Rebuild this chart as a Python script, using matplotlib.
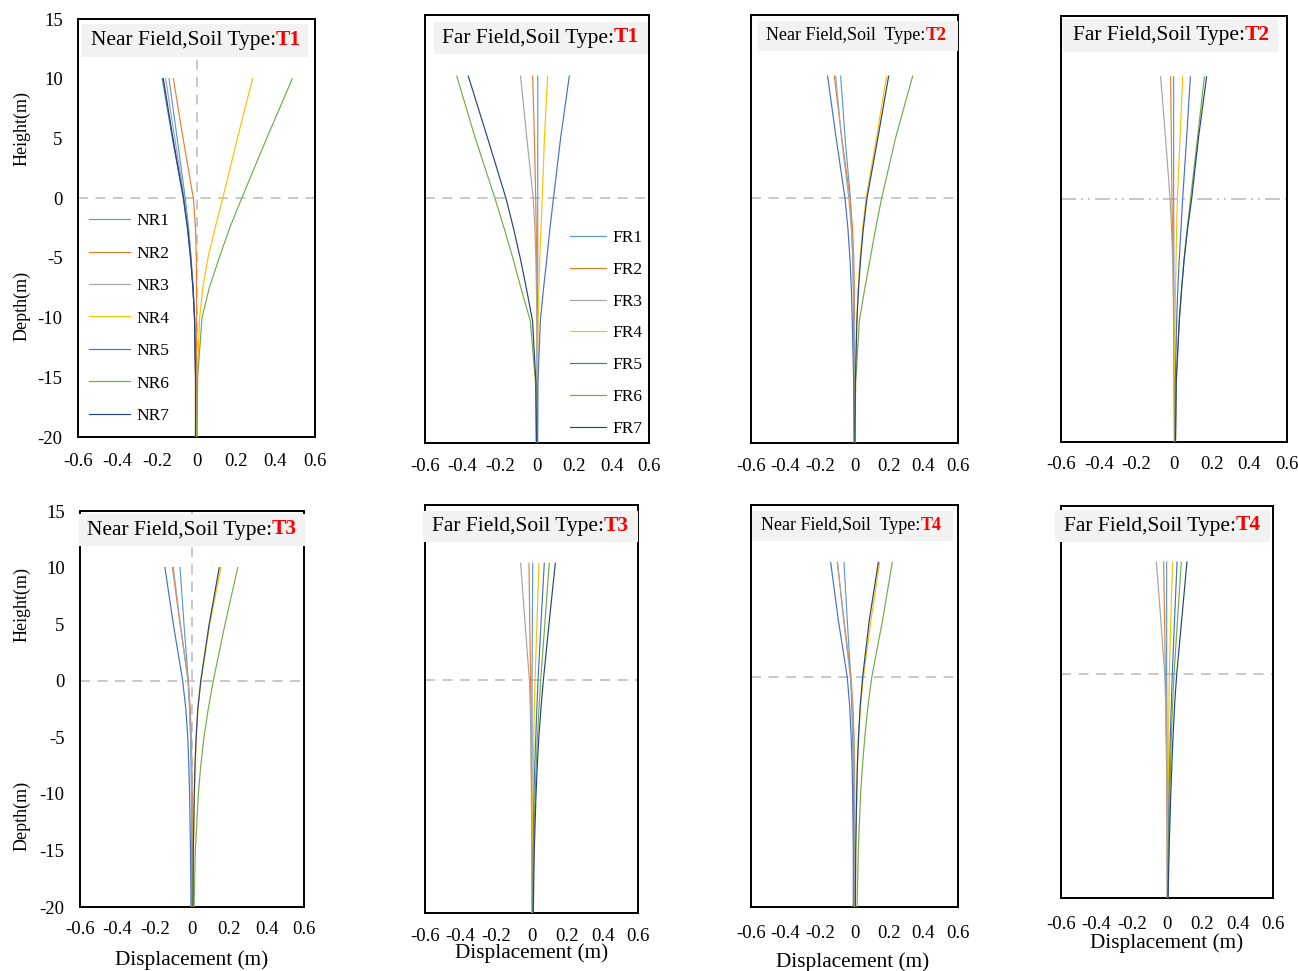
import matplotlib
matplotlib.use('Agg')
import matplotlib.pyplot as plt
from matplotlib.patches import Rectangle
from matplotlib.text import Annotation

plt.rcParams['font.family'] = ['Liberation Serif', 'DejaVu Serif']
plt.rcParams['axes.unicode_minus'] = False

W, H = 1298, 971

# ---------------- data ----------------
HEIGHTS = [10, 5, 0, -2.5, -5, -7.5, -10, -15, -20]
X_TICKS = [-0.6, -0.4, -0.2, 0, 0.2, 0.4, 0.6]
X_TICK_LABELS = ['-0.6', '-0.4', '-0.2', '0', '0.2', '0.4', '0.6']
Y_TICKS = [15, 10, 5, 0, -5, -10, -15, -20]
Y_TICK_LABELS = ['15', '10', '5', '0', '-5', '-10', '-15', '-20']
NEAR_LABELS = ['NR1', 'NR2', 'NR3', 'NR4', 'NR5', 'NR6', 'NR7']
FAR_LABELS = ['FR1', 'FR2', 'FR3', 'FR4', 'FR5', 'FR6', 'FR7']
COLORS = ['#5B9BD5', '#ED7D31', '#A5A5A5', '#FFC000', '#4472C4', '#70AD47', '#264478']

NEAR_T1 = [
    [-0.139, -0.098, -0.057, -0.040, -0.027, -0.017, -0.010, -0.004, -0.003],
    [-0.117, -0.068, -0.016, -0.005, -0.001, 0.000, 0.000, 0.000, 0.000],
    [-0.156, -0.110, -0.062, -0.043, -0.028, -0.018, -0.010, -0.004, -0.003],
    [0.284, 0.207, 0.133, 0.094, 0.058, 0.032, 0.016, 0.004, 0.001],
    [-0.173, -0.122, -0.067, -0.046, -0.030, -0.018, -0.010, -0.005, -0.005],
    [0.485, 0.355, 0.229, 0.168, 0.115, 0.065, 0.028, 0.006, 0.003],
    [-0.168, -0.119, -0.066, -0.045, -0.030, -0.018, -0.010, -0.005, -0.005],
]
FAR_T1 = [
    [0.004, 0.004, 0.004, 0.004, 0.004, 0.003, 0.003, 0.003, 0.003],
    [-0.023, -0.014, -0.007, -0.004, -0.002, -0.001, 0.000, 0.000, 0.000],
    [-0.088, -0.055, -0.020, -0.011, -0.006, -0.003, -0.001, 0.000, 0.000],
    [0.057, 0.040, 0.028, 0.021, 0.015, 0.010, 0.006, 0.002, 0.001],
    [0.173, 0.127, 0.088, 0.069, 0.052, 0.034, 0.018, 0.005, 0.003],
    [-0.430, -0.332, -0.225, -0.175, -0.127, -0.083, -0.036, -0.008, -0.004],
    [-0.368, -0.266, -0.166, -0.125, -0.088, -0.055, -0.024, -0.006, -0.003],
]
NEAR_T2 = [
    [-0.080, -0.055, -0.024, -0.016, -0.010, -0.007, -0.005, -0.002, -0.001],
    [-0.117, -0.074, -0.026, -0.011, -0.004, -0.001, 0.000, 0.000, 0.000],
    [-0.109, -0.076, -0.033, -0.018, -0.009, -0.005, -0.002, 0.000, 0.000],
    [0.186, 0.128, 0.067, 0.047, 0.032, 0.021, 0.013, 0.004, 0.002],
    [-0.156, -0.107, -0.055, -0.038, -0.026, -0.018, -0.013, -0.005, -0.002],
    [0.337, 0.239, 0.157, 0.122, 0.090, 0.058, 0.028, 0.007, 0.002],
    [0.198, 0.136, 0.072, 0.051, 0.035, 0.023, 0.014, 0.005, 0.002],
]
FAR_T2 = [
    [-0.002, -0.002, -0.002, -0.001, -0.001, 0.000, 0.000, 0.002, 0.003],
    [-0.018, -0.014, -0.011, -0.008, -0.006, -0.004, -0.002, 0.000, 0.002],
    [-0.071, -0.045, -0.021, -0.013, -0.007, -0.003, 0.000, 0.002, 0.003],
    [0.046, 0.032, 0.018, 0.014, 0.011, 0.008, 0.005, 0.003, 0.003],
    [0.087, 0.067, 0.046, 0.037, 0.028, 0.020, 0.014, 0.007, 0.005],
    [0.161, 0.125, 0.088, 0.070, 0.053, 0.040, 0.028, 0.012, 0.008],
    [0.173, 0.130, 0.094, 0.072, 0.054, 0.040, 0.028, 0.012, 0.008],
]
NEAR_T3 = [
    [-0.064, -0.043, -0.020, -0.013, -0.008, -0.005, -0.003, -0.001, 0.000],
    [-0.105, -0.064, -0.020, -0.009, -0.004, -0.001, 0.001, 0.002, 0.002],
    [-0.100, -0.062, -0.022, -0.011, -0.006, -0.003, -0.001, 0.000, 0.000],
    [0.155, 0.095, 0.048, 0.032, 0.023, 0.017, 0.013, 0.008, 0.006],
    [-0.145, -0.100, -0.050, -0.033, -0.023, -0.017, -0.013, -0.008, -0.005],
    [0.245, 0.177, 0.114, 0.087, 0.064, 0.047, 0.034, 0.018, 0.011],
    [0.146, 0.092, 0.047, 0.031, 0.022, 0.016, 0.012, 0.007, 0.005],
]
FAR_T3 = [
    [0.007, 0.005, 0.003, 0.003, 0.003, 0.003, 0.003, 0.004, 0.005],
    [-0.014, -0.010, -0.005, -0.003, -0.002, -0.001, 0.000, 0.002, 0.003],
    [-0.061, -0.037, -0.012, -0.007, -0.004, -0.002, 0.000, 0.002, 0.003],
    [0.042, 0.031, 0.020, 0.016, 0.013, 0.010, 0.008, 0.006, 0.005],
    [0.072, 0.054, 0.037, 0.030, 0.024, 0.018, 0.014, 0.009, 0.007],
    [0.100, 0.076, 0.052, 0.042, 0.033, 0.026, 0.020, 0.012, 0.008],
    [0.134, 0.100, 0.067, 0.053, 0.041, 0.032, 0.025, 0.015, 0.010],
]
NEAR_T4 = [
    [-0.061, -0.042, -0.022, -0.016, -0.011, -0.008, -0.006, -0.003, -0.002],
    [-0.100, -0.061, -0.020, -0.009, -0.003, 0.000, 0.001, 0.002, 0.002],
    [-0.098, -0.063, -0.024, -0.012, -0.006, -0.003, -0.001, 0.000, 0.000],
    [0.146, 0.096, 0.051, 0.035, 0.024, 0.017, 0.013, 0.007, 0.005],
    [-0.138, -0.094, -0.042, -0.028, -0.020, -0.014, -0.011, -0.007, -0.007],
    [0.219, 0.163, 0.100, 0.078, 0.061, 0.047, 0.036, 0.022, 0.015],
    [0.138, 0.086, 0.047, 0.033, 0.024, 0.017, 0.013, 0.007, 0.005],
]
FAR_T4 = [
    [-0.002, -0.002, -0.002, -0.001, 0.000, 0.000, 0.001, 0.002, 0.002],
    [-0.019, -0.014, -0.009, -0.007, -0.005, -0.003, -0.001, 0.001, 0.002],
    [-0.060, -0.036, -0.013, -0.008, -0.005, -0.002, 0.000, 0.001, 0.002],
    [0.032, 0.022, 0.013, 0.011, 0.010, 0.009, 0.008, 0.005, 0.003],
    [0.057, 0.043, 0.030, 0.025, 0.020, 0.016, 0.013, 0.008, 0.004],
    [0.081, 0.060, 0.040, 0.032, 0.026, 0.021, 0.017, 0.010, 0.005],
    [0.113, 0.084, 0.055, 0.044, 0.036, 0.029, 0.023, 0.013, 0.006],
]

# ---------------- layout (pixels) ----------------
PANELS = [
    dict(data=NEAR_T1, labels=NEAR_LABELS, head='Near Field,Soil Type:', soil='T1',
         rect=(78, 19, 315, 437), box=(82, 24, 308, 57), tx=91, fs=15.5, pad=23,
         yticks=True, vline=True, hstyle='dash', legend=(89, 221, 2.36, 0.94), xlabel=None,
         ylab=[(22, 128, 'Height(m)'), (22, 306, 'Depth(m)')]),
    dict(data=FAR_T1, labels=FAR_LABELS, head='Far Field,Soil Type:', soil='T1',
         rect=(425, 15, 649, 443), box=(434, 22, 648, 54), tx=442, fs=15.5, pad=22,
         yticks=False, vline=False, hstyle='dash', legend=(570, 238, 2.07, 0.90), xlabel=None, ylab=[]),
    dict(data=NEAR_T2, labels=NEAR_LABELS, head='Near Field,Soil  Type:', soil='T2',
         rect=(751, 15, 958, 443), box=(757, 21, 958, 51), tx=766, fs=13.0, pad=22,
         yticks=False, vline=False, hstyle='dash', legend=None, xlabel=None, ylab=[]),
    dict(data=FAR_T2, labels=FAR_LABELS, head='Far Field,Soil Type:', soil='T2',
         rect=(1061, 16, 1287, 442), box=(1063, 19, 1278, 52), tx=1073, fs=15.5, pad=21,
         yticks=False, vline=False, hstyle='dashdot', legend=None, xlabel=None, ylab=[]),
    dict(data=NEAR_T3, labels=NEAR_LABELS, head='Near Field,Soil Type:', soil='T3',
         rect=(80, 511, 304, 907), box=(79, 514, 305, 546), tx=87, fs=15.5, pad=21,
         yticks=True, vline=True, hstyle='dash', legend=None, xlabel=(192, 960),
         ylab=[(22, 604, 'Height(m)'), (22, 816, 'Depth(m)')]),
    dict(data=FAR_T3, labels=FAR_LABELS, head='Far Field,Soil Type:', soil='T3',
         rect=(425, 505, 638, 913), box=(423, 511, 638, 542), tx=432, fs=15.5, pad=22,
         yticks=False, vline=False, hstyle='dash', legend=None, xlabel=(532, 953), ylab=[]),
    dict(data=NEAR_T4, labels=NEAR_LABELS, head='Near Field,Soil  Type:', soil='T4',
         rect=(751, 505, 958, 907), box=(752, 511, 953, 541), tx=761, fs=13.0, pad=25,
         yticks=False, vline=False, hstyle='dash', legend=None, xlabel=(853, 962), ylab=[]),
    dict(data=FAR_T4, labels=FAR_LABELS, head='Far Field,Soil Type:', soil='T4',
         rect=(1061, 506, 1273, 898), box=(1055, 510, 1270, 542), tx=1064, fs=15.5, pad=25,
         yticks=False, vline=False, hstyle='dash', legend=None, xlabel=(1167, 943), ylab=[]),
]

fig = plt.figure(figsize=(W / 100, H / 100), dpi=100)


def fx(x):
    return x / W


def fy(y):
    return 1 - y / H


TICK_FS = 13.5
LEG_FS = 12.5
GRAY = '#BFBFBF'

for p in PANELS:
    l, t, r, b = p['rect']
    ax = fig.add_axes([fx(l), fy(b), (r - l) / W, (b - t) / H])
    ax.set_xlim(-0.6, 0.6)
    ax.set_ylim(-20, 15)
    for i, series in enumerate(p['data']):
        ax.plot(series, HEIGHTS, color=COLORS[i], lw=0.85, label=p['labels'][i], zorder=3)
    if p['hstyle'] == 'dash':
        ax.axhline(0, color=GRAY, lw=1.2, ls=(0, (6, 4.5)), zorder=2)
    else:
        ax.axhline(0, color=GRAY, lw=1.2, ls=(0, (9, 3, 1.2, 3, 1.2, 3)), zorder=2)
    if p['vline']:
        ax.axvline(0, color=GRAY, lw=1.2, ls=(0, (6, 4.5)), zorder=2)
    ax.set_xticks(X_TICKS)
    ax.set_xticklabels(X_TICK_LABELS, fontsize=TICK_FS)
    xpad = (p['pad'] - 7) / 1.389
    ax.tick_params(axis='x', length=0, pad=xpad)
    if p['yticks']:
        ax.set_yticks(Y_TICKS)
        ax.set_yticklabels(Y_TICK_LABELS, fontsize=TICK_FS)
        ax.tick_params(axis='y', length=0, pad=11)
    else:
        ax.set_yticks([])
    for s in ax.spines.values():
        s.set_linewidth(1.4)
        s.set_color('black')

    # title box
    bl, bt, br, bb = p['box']
    fig.add_artist(Rectangle((fx(bl), fy(bb)), (br - bl) / W, (bb - bt) / H,
                             transform=fig.transFigure, facecolor='#F2F2F2',
                             edgecolor='none', zorder=5))
    t1 = fig.text(fx(p['tx']), fy((bt + bb) / 2), p['head'], fontsize=p['fs'],
                  ha='left', va='center', color='black', zorder=6)
    an = Annotation(p['soil'], xy=(1, 0), xycoords=t1, ha='left', va='bottom',
                    fontsize=p['fs'], fontweight='bold', color='#FF0000',
                    annotation_clip=False)
    an.set_zorder(6)
    fig.add_artist(an)

    if p['legend'] is not None:
        lx, ly, hl, ls = p['legend']
        ax.legend(loc='upper left', bbox_to_anchor=(fx(lx), fy(ly - 8)),
                  bbox_transform=fig.transFigure, frameon=False, fontsize=LEG_FS,
                  borderpad=0, borderaxespad=0, handlelength=hl, handletextpad=0.4,
                  labelspacing=ls)

    for (x, y, txt) in p['ylab']:
        fig.text(fx(x), fy(y), txt, rotation=90, fontsize=13, ha='center', va='center')
    if p['xlabel'] is not None:
        x, y = p['xlabel']
        fig.text(fx(x), fy(y), 'Displacement (m)', fontsize=15.3, ha='center', va='center')

fig.savefig('out.png', dpi=100)
